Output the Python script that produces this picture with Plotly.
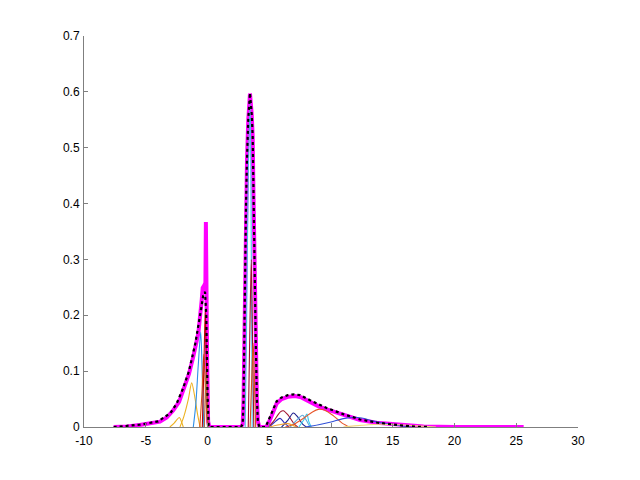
import plotly.graph_objects as go

# ---- measured data (thick magenta curve) ----
data_x = [-7.6, -6.5, -5.5, -4.5, -3.85, -3.3, -2.77, -2.3, -1.96, -1.5, -1.15, -0.74,
          -0.47, -0.39, -0.25, -0.17, -0.13, -0.09, -0.03, 0.05, 0.15,
          2.7, 2.85, 2.92, 2.97, 3.05, 3.12, 3.2, 3.3, 3.44, 3.58, 3.66, 3.72, 3.8, 3.9, 4.0, 4.08, 4.2,
          4.75, 4.93, 5.2, 5.6, 6.0, 6.5, 7.09, 7.6, 8.3, 9.0, 9.65, 11.0, 12.35, 13.7, 15.05,
          16.4, 17.5, 20.0, 25.6]
data_y = [0.0, 0.0008, 0.0036, 0.007, 0.0095, 0.017, 0.030, 0.045, 0.066, 0.095, 0.126, 0.168,
          0.227, 0.249, 0.254, 0.258, 0.367, 0.22, 0.12, 0.01, 0.0,
          0.0, 0.005, 0.05, 0.15, 0.28, 0.40, 0.48, 0.55, 0.597, 0.56, 0.52, 0.42, 0.28, 0.16, 0.05, 0.01, 0.0,
          0.0, 0.0066, 0.02, 0.042, 0.05, 0.054, 0.0555, 0.053, 0.045, 0.037, 0.0316, 0.0215, 0.0125, 0.0078, 0.0048,
          0.0024, 0.0008, 0.0, 0.0]

# ---- fitted sum (black dotted) ----
fit_x = [-7.6, -5.5, -4.0, -3.0, -2.5, -2.0, -1.5, -1.0, -0.6, -0.35, -0.2, -0.1, 0.0, 0.1,
         2.7, 2.85, 2.92, 2.97, 3.05, 3.12, 3.2, 3.3, 3.44, 3.58, 3.66, 3.72, 3.8, 3.9, 4.0, 4.08, 4.2,
         4.7, 4.9, 5.2, 5.6, 6.0, 6.5, 7.0, 7.5, 8.3, 9.0, 9.65, 11.0, 12.35, 13.7, 15.0, 16.0, 17.0, 18.0]
fit_y = [0.0, 0.004, 0.01, 0.025, 0.042, 0.068, 0.10, 0.148, 0.20, 0.235, 0.242, 0.20, 0.06, 0.0,
         0.0, 0.005, 0.05, 0.15, 0.28, 0.40, 0.48, 0.55, 0.598, 0.56, 0.52, 0.42, 0.28, 0.16, 0.05, 0.01, 0.0,
         0.0, 0.01, 0.025, 0.046, 0.053, 0.057, 0.0585, 0.057, 0.048, 0.040, 0.034, 0.023, 0.0135, 0.008, 0.004,
         0.002, 0.0005, 0.0]

# ---- individual components (thin lines): (name, color, x, y) ----
components = [
    ("c1", "#EDB120", [-3.05, -2.7, -2.28, -2.1, -1.96], [0.0, 0.007, 0.017, 0.009, 0.0]),
    ("c2", "#EDB120", [-2.23, -1.9, -1.55, -1.28, -1.0, -0.8, -0.6], [0.0, 0.02, 0.05, 0.079, 0.05, 0.022, 0.0]),
    ("c3", "#2F8FE8", [-1.15, -0.95, -0.75, -0.55, -0.42, -0.3], [0.0, 0.04, 0.11, 0.17, 0.09, 0.0]),
    ("c4", "#D95319", [-0.62, -0.45, -0.3, -0.15, 0.0], [0.0, 0.06, 0.13, 0.06, 0.0]),
    ("c5", "#C00000", [-0.42, -0.3, -0.18, -0.08, 0.02], [0.0, 0.10, 0.21, 0.10, 0.0]),
    ("c6", "#B07040", [-0.25, -0.12, -0.05, 0.05], [0.0, 0.10, 0.05, 0.0]),
    ("c7", "#4DBEEE", [3.05, 3.15, 3.3, 3.45, 3.55, 3.62], [0.0, 0.15, 0.45, 0.58, 0.30, 0.0]),
    ("c8", "#A2142F", [3.3, 3.45, 3.55, 3.65, 3.75], [0.0, 0.20, 0.30, 0.15, 0.0]),
    ("c9", "#D95319", [3.45, 3.6, 3.7, 3.8, 3.9], [0.0, 0.10, 0.15, 0.08, 0.0]),
    ("c10", "#2B2BC0", [5.0, 5.4, 5.87, 6.2, 6.6], [0.0, 0.008, 0.0155, 0.008, 0.0]),
    ("c11", "#A2142F", [4.95, 5.4, 5.9, 6.14, 6.5, 7.0, 7.3], [0.0, 0.012, 0.027, 0.029, 0.022, 0.006, 0.0]),
    ("c12", "#1C1C8C", [6.0, 6.5, 6.95, 7.3, 7.7, 8.0], [0.0, 0.012, 0.025, 0.018, 0.005, 0.0]),
    ("c13", "#5DA8DC", [6.7, 7.2, 7.7, 8.0, 8.3], [0.0, 0.012, 0.021, 0.012, 0.0]),
    ("c14", "#33CCEE", [7.4, 7.8, 8.05, 8.2, 8.4], [0.0, 0.013, 0.023, 0.01, 0.0]),
    ("c15", "#E8552A", [6.3, 7.0, 7.8, 8.5, 8.97, 9.5, 10.2, 10.9, 11.5],
     [0.0, 0.005, 0.016, 0.027, 0.0316, 0.030, 0.020, 0.007, 0.0]),
    ("c16", "#3050D8", [7.9, 9.0, 10.0, 11.0, 11.8, 12.5, 13.5, 15.0, 16.5],
     [0.0, 0.004, 0.009, 0.015, 0.0175, 0.016, 0.010, 0.004, 0.0]),
    ("c17", "#F2D67A", [11.0, 12.5, 14.0, 15.5, 17.0, 18.5], [0.0, 0.003, 0.005, 0.004, 0.002, 0.0]),
    ("c18", "#F0A030", [5.0, 5.8, 6.5, 7.2], [0.0, 0.004, 0.006, 0.0]),
]

x_ticks = [-10, -5, 0, 5, 10, 15, 20, 25, 30]
y_ticks = [0, 0.1, 0.2, 0.3, 0.4, 0.5, 0.6, 0.7]
y_tick_text = ["0", "0.1", "0.2", "0.3", "0.4", "0.5", "0.6", "0.7"]

fig = go.Figure()
fig.add_trace(go.Scatter(x=data_x, y=data_y, mode="lines",
                         line=dict(color="#FF00FF", width=4), showlegend=False))
for name, color, cx, cy in components:
    fig.add_trace(go.Scatter(x=cx, y=cy, mode="lines", name=name,
                             line=dict(color=color, width=1.1, shape="spline", smoothing=0.8),
                             showlegend=False))
fig.add_trace(go.Scatter(x=fit_x, y=fit_y, mode="lines",
                         line=dict(color="black", width=2.2, dash="dot"), showlegend=False))

axis_common = dict(showgrid=False, zeroline=False, showline=True, linecolor="#7f7f7f",
                   linewidth=1, ticks="inside", ticklen=4, tickcolor="#7f7f7f", automargin=False,
                   tickfont=dict(family="Liberation Sans, Arial", size=12, color="black"))
fig.update_xaxes(range=[-10, 30], tickvals=x_ticks, ticktext=[str(v) for v in x_ticks],
                 ticklabelstandoff=3, **axis_common)
fig.update_yaxes(range=[0, 0.7], tickvals=y_ticks, ticktext=y_tick_text,
                 ticklabelstandoff=1, **axis_common)
fig.update_layout(width=640, height=480, plot_bgcolor="white", paper_bgcolor="white",
                  margin=dict(l=76, r=70, t=28, b=61, pad=0), showlegend=False)
fig.write_html("out.html")
